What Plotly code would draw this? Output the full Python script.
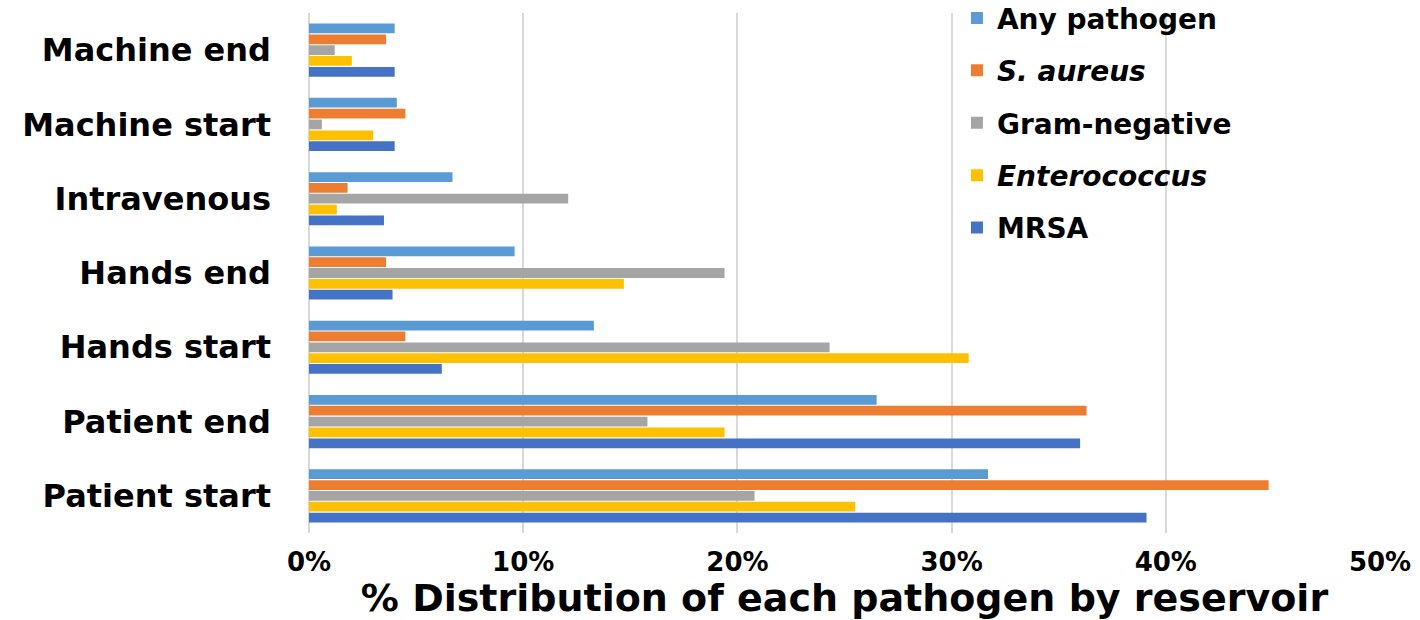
import plotly.graph_objects as go

# Reservoirs, listed bottom to top on the category axis
reservoirs = ["Patient start", "Patient end", "Hands start", "Hands end",
              "Intravenous", "Machine start", "Machine end"]

# Percent of each pathogen found in each reservoir
any_pathogen = [31.7, 26.5, 13.3, 9.6, 6.7, 4.1, 4.0]
s_aureus = [44.8, 36.3, 4.5, 3.6, 1.8, 4.5, 3.6]
gram_negative = [20.8, 15.8, 24.3, 19.4, 12.1, 0.6, 1.2]
enterococcus = [25.5, 19.4, 30.8, 14.7, 1.3, 3.0, 2.0]
mrsa = [39.1, 36.0, 6.2, 3.9, 3.5, 4.0, 4.0]

x_ticks = [0, 10, 20, 30, 40, 50]
x_tick_labels = ["0%", "10%", "20%", "30%", "40%", "50%"]

# Drawn bottom-up inside each group; legend rank puts "Any pathogen" first
series = [
    ("MRSA", mrsa, "#4472C4"),
    ("<i>Enterococcus</i>", enterococcus, "#FFC000"),
    ("Gram-negative", gram_negative, "#A5A5A5"),
    ("<i>S. aureus</i>", s_aureus, "#ED7D31"),
    ("Any pathogen", any_pathogen, "#5B9BD5"),
]

FONT = "DejaVu Sans"

fig = go.Figure()
for i, (name, vals, color) in enumerate(series):
    fig.add_trace(go.Bar(
        y=reservoirs, x=vals, name=name, orientation="h",
        marker=dict(color=color, line=dict(width=0)),
        legendgroup=f"g{i}", legendrank=len(series) - i,
    ))

fig.update_layout(
    width=1420, height=620,
    margin=dict(l=309, r=40, t=13, b=87, autoexpand=False),
    paper_bgcolor="white", plot_bgcolor="white",
    barmode="group", bargap=0.27, bargroupgap=0.1,
    font=dict(family=FONT, color="black"),
    showlegend=True,
    legend=dict(
        x=0.605, xanchor="left", y=1.038, yanchor="top",
        traceorder="grouped", tracegroupgap=13,
        font=dict(family=FONT, size=28, color="black", weight="bold"),
        bgcolor="rgba(0,0,0,0)", itemwidth=30,
    ),
    xaxis=dict(
        range=[0, 50], tickvals=x_ticks, ticktext=x_tick_labels,
        showgrid=True, gridcolor="#D9D9D9", gridwidth=1.5,
        zeroline=True, zerolinecolor="#D9D9D9", zerolinewidth=1.5,
        showline=False, ticks="",
        tickfont=dict(family=FONT, size=26, color="black", weight="bold"),
        ticklabelstandoff=11,
        title=dict(text="% Distribution of each pathogen by reservoir",
                   font=dict(family=FONT, size=38, color="black", weight="bold"),
                   standoff=15),
    ),
    yaxis=dict(
        categoryorder="array", categoryarray=reservoirs,
        showgrid=False, showline=False, ticks="",
        tickfont=dict(family=FONT, size=32, color="black", weight="bold"),
        ticklabelstandoff=37,
    ),
)

fig.write_html("out.html")
